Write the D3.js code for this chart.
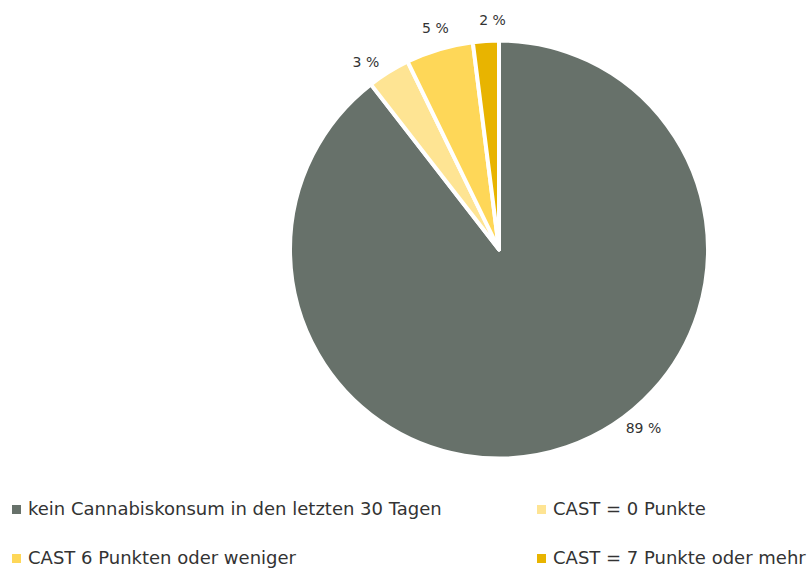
<!DOCTYPE html>
<html>
<head>
<meta charset="utf-8">
<script src="https://cdn.jsdelivr.net/npm/d3@7"></script>
<style>
  body { margin: 0; background: #fff; }
  svg { display: block; font-family: "DejaVu Sans", sans-serif; }
</style>
</head>
<body>
<div id="chart"></div>
<script>
// slice data, clockwise from 12 o'clock
const categories = [
  "kein Cannabiskonsum in den letzten 30 Tagen",
  "CAST = 0 Punkte",
  "CAST 6 Punkten oder weniger",
  "CAST = 7 Punkte oder mehr"
];
const values = [89.5, 3.3, 5.2, 2.0];
const valueLabels = ["89 %", "3 %", "5 %", "2 %"];

const colors = ["#67716a", "#fee493", "#fed758", "#e8b400"];
const labelNudge = [-20, -3.5, 0.5, 2]; // degrees, label angle tweak

const width = 807, height = 569;
const cx = 499, cy = 249.5, radius = 209;

const svg = d3.select("#chart")
  .append("svg")
  .attr("width", width)
  .attr("height", height);

const g = svg.append("g").attr("transform", `translate(${cx}, ${cy})`);

const pie = d3.pie().sort(null).value(d => d);
const arcs = pie(values);
const arcGen = d3.arc().innerRadius(0).outerRadius(radius);

g.selectAll("path.slice")
  .data(arcs)
  .enter()
  .append("path")
  .attr("class", "slice")
  .attr("d", arcGen)
  .style("fill", (d, i) => colors[i])
  .style("stroke", "#fff")
  .style("stroke-width", 4)
  .style("stroke-linejoin", "round");

// value labels just outside the rim
const labelR = radius + 21;
const midA = (d, i) => (d.startAngle + d.endAngle) / 2 + labelNudge[i] * Math.PI / 180;
g.selectAll("text.val")
  .data(arcs)
  .enter()
  .append("text")
  .attr("class", "val")
  .attr("text-anchor", "middle")
  .attr("dy", "0.35em")
  .attr("x", (d, i) => Math.sin(midA(d, i)) * labelR)
  .attr("y", (d, i) => -Math.cos(midA(d, i)) * labelR)
  .style("font-size", "14px")
  .style("fill", "#333")
  .text((d, i) => valueLabels[i]);

// legend, two columns
const legendX = d3.scalePoint().domain([0, 1]).range([12, 537]);
const legendY = d3.scalePoint().domain([0, 1]).range([509, 558]);

const legend = svg.selectAll("g.leg")
  .data(categories)
  .enter()
  .append("g")
  .attr("class", "leg")
  .attr("transform", (d, i) => `translate(${legendX(i % 2)}, ${legendY(Math.floor(i / 2))})`);

legend.append("rect")
  .attr("x", 0)
  .attr("y", -4)
  .attr("width", 9)
  .attr("height", 9)
  .style("fill", (d, i) => colors[i]);

legend.append("text")
  .attr("x", 16)
  .attr("dy", "0.35em")
  .style("font-size", "18px")
  .style("fill", "#333")
  .text(d => d);
</script>
</body>
</html>
